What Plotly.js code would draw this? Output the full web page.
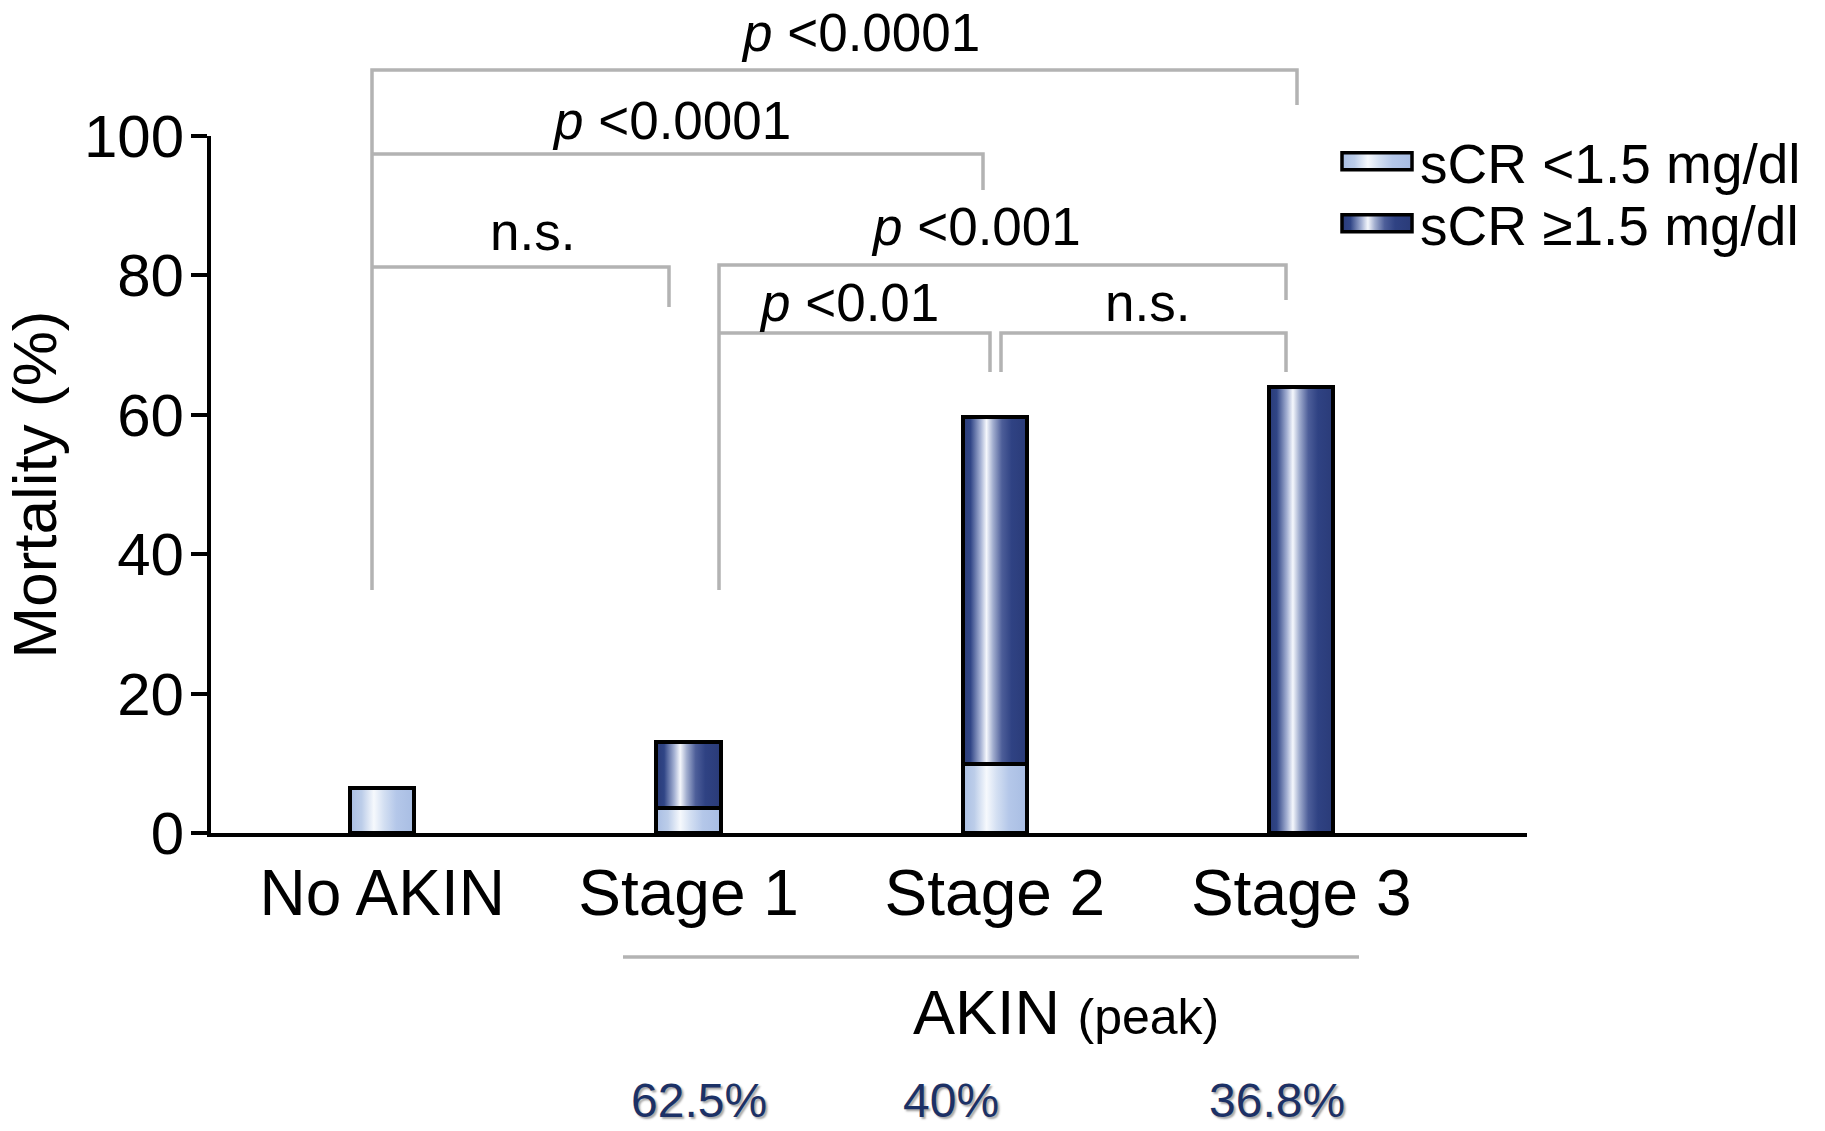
<!DOCTYPE html>
<html>
<head>
<meta charset="utf-8">
<script src="https://cdn.plot.ly/plotly-3.0.1.min.js"></script>
<style>
html,body{margin:0;padding:0;background:#fff;}
#chart{width:1825px;height:1131px;}
</style>
</head>
<body>
<svg width="0" height="0" style="position:absolute;left:0;top:0">
  <defs>
    <linearGradient id="gradLight" x1="0" y1="0" x2="1" y2="0">
      <stop offset="0" stop-color="#a9bee4"/>
      <stop offset="0.18" stop-color="#bccde9"/>
      <stop offset="0.37" stop-color="#f6f9fd"/>
      <stop offset="0.53" stop-color="#d3dff2"/>
      <stop offset="0.72" stop-color="#b4c7e9"/>
      <stop offset="1" stop-color="#a8bde3"/>
    </linearGradient>
    <linearGradient id="gradDark" x1="0" y1="0" x2="1" y2="0">
      <stop offset="0" stop-color="#2a3b78"/>
      <stop offset="0.12" stop-color="#304586"/>
      <stop offset="0.28" stop-color="#a6b2d4"/>
      <stop offset="0.37" stop-color="#f5f7fc"/>
      <stop offset="0.47" stop-color="#a2aecf"/>
      <stop offset="0.61" stop-color="#4d5e99"/>
      <stop offset="0.76" stop-color="#2f4283"/>
      <stop offset="1" stop-color="#2a3b78"/>
    </linearGradient>
  </defs>
</svg>
<div id="chart"></div>
<script>
// ---- data ----
const categories = ['No AKIN', 'Stage 1', 'Stage 2', 'Stage 3'];
const lowSCr = [6.4, 3.6, 9.9, 0];       // sCR <1.5 mg/dl
const highSCr = [0, 9.5, 49.8, 64.0];    // sCR >=1.5 mg/dl
const seriesNames = ['sCR <1.5 mg/dl', 'sCR \u22651.5 mg/dl'];
const yTickVals = [0, 20, 40, 60, 80, 100];
const comparisonLabels = ['<i>p</i> <0.0001', '<i>p</i> <0.0001', 'n.s.', '<i>p</i> <0.001', '<i>p</i> <0.01', 'n.s.'];
const groupLabel = 'AKIN';
const groupSubLabel = '(peak)';
const pctLabels = ['62.5%', '40%', '36.8%'];

// ---- layout helpers (pixel -> paper) ----
const L = 211, R = 1527, T = 136, B = 833;
const px = x => (x - L) / (R - L);
const py = y => (B - y) / (B - T);
const FONT = 'Liberation Sans, Arial, Helvetica, sans-serif';
const GRAY = '#b3b3b3';

function bracketPath(x0, x1, y, yl, yr) {
  return 'M' + px(x0) + ',' + py(yl) + ' L' + px(x0) + ',' + py(y) +
         ' L' + px(x1) + ',' + py(y) + ' L' + px(x1) + ',' + py(yr);
}
const bracketGeom = [
  [372, 1297, 70, 590, 105],
  [372, 983, 154, 154, 190],
  [372, 669, 267, 267, 307],
  [719, 1286, 265, 590, 300],
  [719, 990, 333, 333, 372],
  [1001, 1286, 333, 372, 372]
];
const labelPos = [[860, 32], [671, 120], [532, 231], [976, 226], [849, 302], [1147, 302]];

const shapes = bracketGeom.map(g => ({
  type: 'path', xref: 'paper', yref: 'paper',
  path: bracketPath(g[0], g[1], g[2], g[3], g[4]),
  line: {color: GRAY, width: 3.5}
}));
shapes.push({type: 'line', xref: 'paper', yref: 'paper',
  x0: px(623), x1: px(1359), y0: py(957), y1: py(957),
  line: {color: GRAY, width: 3.5}});

const annotations = comparisonLabels.map((t, i) => ({
  xref: 'paper', yref: 'paper', x: px(labelPos[i][0]), y: py(labelPos[i][1]),
  xanchor: 'center', yanchor: 'middle', showarrow: false, text: t,
  font: {family: FONT, size: 53, color: '#000'}
}));
annotations.push({
  xref: 'paper', yref: 'paper', x: px(1066), y: py(1012),
  xanchor: 'center', yanchor: 'middle', showarrow: false,
  text: groupLabel + ' <span style="font-size:50px">' + groupSubLabel + '</span>',
  font: {family: FONT, size: 63, color: '#000'}
});
const pctX = [699, 951, 1277];
pctLabels.forEach((t, i) => annotations.push({
  xref: 'paper', yref: 'paper', x: px(pctX[i]), y: py(1100),
  xanchor: 'center', yanchor: 'middle', showarrow: false, text: t, borderpad: 0,
  font: {family: FONT, size: 48, color: '#1c3166', shadow: '2px 2px 2px rgba(60,60,60,0.45)'}
}));

const traces = [
  {type: 'bar', x: categories, y: lowSCr, name: seriesNames[0], width: 0.21,
   marker: {color: '#b4c7e7', line: {color: '#000', width: 4}}, legend: 'legend'},
  {type: 'bar', x: categories, y: highSCr, name: seriesNames[1], width: 0.21,
   marker: {color: '#2c3f7e', line: {color: '#000', width: 4}}, legend: 'legend2'}
];

const legendCommon = {
  xanchor: 'left', yanchor: 'top', bgcolor: 'rgba(0,0,0,0)', borderwidth: 0,
  itemwidth: 76, font: {family: FONT, size: 55, color: '#000'}
};

const layout = {
  width: 1825, height: 1131,
  margin: {l: L, r: 1825 - R, t: T, b: 1131 - B, pad: 0},
  paper_bgcolor: '#fff', plot_bgcolor: '#fff',
  barmode: 'stack',
  showlegend: true,
  legend: Object.assign({x: px(1334), y: py(119)}, legendCommon),
  legend2: Object.assign({x: px(1334), y: py(181)}, legendCommon),
  xaxis: {
    type: 'category', range: [-0.559, 3.737],
    showline: true, linecolor: '#000', linewidth: 4,
    ticks: '', showgrid: false, zeroline: false,
    tickfont: {family: FONT, size: 64, color: '#000'},
    ticklabelstandoff: 1
  },
  yaxis: {
    range: [0, 100], tickvals: yTickVals,
    showline: true, linecolor: '#000', linewidth: 4,
    ticks: 'outside', ticklen: 16, tickwidth: 4, tickcolor: '#000',
    showgrid: false, zeroline: false,
    tickfont: {family: FONT, size: 60, color: '#000'},
    ticklabelstandoff: -5,
    title: {text: 'Mortality (%)', font: {family: FONT, size: 62, color: '#000'}, standoff: 14}
  },
  shapes: shapes,
  annotations: annotations
};

Plotly.newPlot('chart', traces, layout, {staticPlot: true, displayModeBar: false}).then(gd => {
  const grads = ['url(#gradLight)', 'url(#gradDark)'];
  gd.querySelectorAll('.barlayer .trace').forEach((tr, i) => {
    tr.querySelectorAll('path').forEach(p => { p.style.fill = grads[i]; });
  });
  ['legend', 'legend2'].forEach((lg, i) => {
    gd.querySelectorAll('g.' + lg + ' .legendpoints path').forEach(p => {
      p.setAttribute('d', 'M35,8.5H-35V-8.5H35Z');
      p.style.fill = grads[i];
      p.style.strokeWidth = '3.5px';
    });
  });
});
</script>
</body>
</html>
